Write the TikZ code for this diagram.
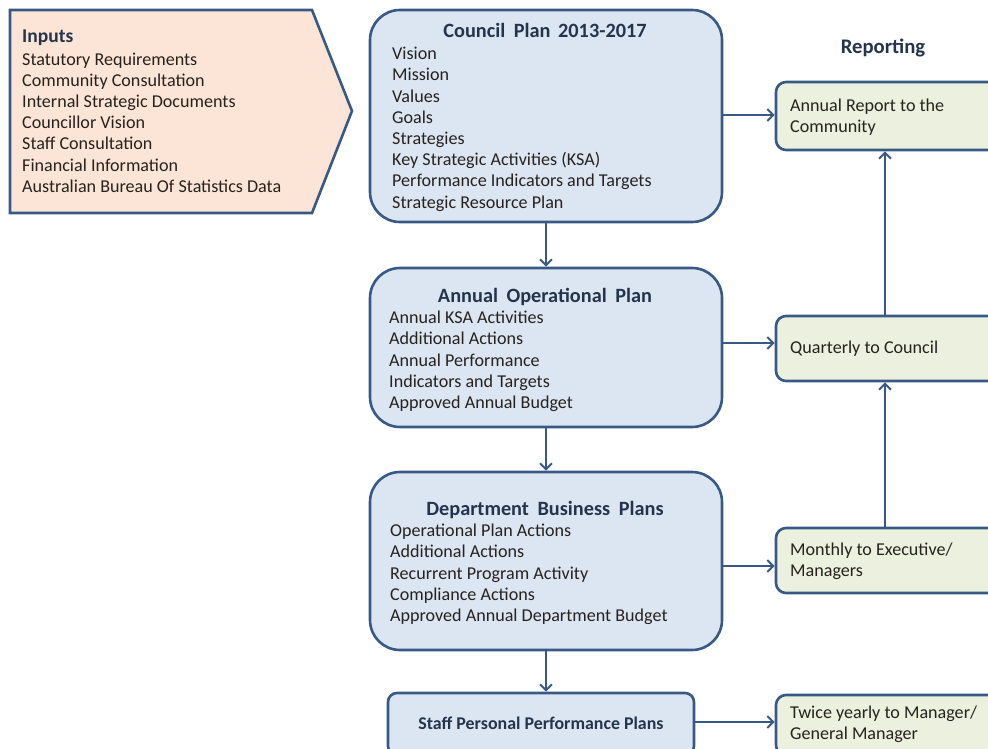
\documentclass[tikz,border=0pt]{standalone}
\usepackage{fontspec}
\setmainfont{Carlito}
\usetikzlibrary{arrows.meta}
\definecolor{edge}{RGB}{56,88,134}
\definecolor{bluefill}{RGB}{220,230,242}
\definecolor{greenfill}{RGB}{235,241,222}
\definecolor{peach}{RGB}{252,229,214}
\definecolor{titlecol}{RGB}{36,52,76}
\definecolor{txt}{RGB}{38,34,30}
\tikzset{
  planbox/.style={draw=edge, line width=2.6pt, fill=bluefill, rounded corners=30pt, inner sep=0pt},
  smallbox/.style={draw=edge, line width=2.6pt, fill=bluefill, rounded corners=9pt, inner sep=0pt},
  repbox/.style={draw=edge, line width=2.6pt, fill=greenfill, rounded corners=10pt, inner sep=0pt},
  items/.style={anchor=north west, align=left, inner sep=0pt, text=txt, font=\fontsize{18.1}{21.2}\selectfont},
  ttl/.style={anchor=base, inner sep=0pt, text=titlecol, font=\fontsize{20.3}{24}\bfseries\selectfont},
  conn/.style={draw=edge, line width=2.2pt, -{Straight Barb[length=6pt,width=12pt,line width=2pt]}},
}
\begin{document}
\begin{tikzpicture}[x=1pt, y=-1pt]
\useasboundingbox (0,0) rectangle (988,749);
% Inputs pentagon
\filldraw[draw=edge, line width=2.6pt, fill=peach, line join=miter]
  (10,10) -- (312,10) -- (352,111) -- (312,213) -- (10,213) -- cycle;
\node[items, anchor=north west] (inputs) at (22,30)
  {{\fontsize{19.5}{21}\bfseries\selectfont\textcolor{titlecol}{Inputs}}\\[1pt]
   Statutory Requirements\\ Community Consultation\\ Internal Strategic Documents\\
   Councillor Vision\\ Staff Consultation\\ Financial Information\\
   Australian Bureau Of Statistics Data};

% Plan boxes
\node[planbox, minimum width=352pt, minimum height=212pt] (council) at (546,116) {};
\node[ttl] (counciltitle) at (545,38) {Council\hspace{4pt} Plan\hspace{3pt} 2013-2017};
\node[items] (councilitems) at (392,47)
  {Vision\\ Mission\\ Values\\ Goals\\ Strategies\\ Key Strategic Activities (KSA)\\
   Performance Indicators and Targets\\ Strategic Resource Plan};

\node[planbox, minimum width=352pt, minimum height=159pt] (annop) at (546,347.5) {};
\node[ttl] (annoptitle) at (545,302) {Annual\hspace{4pt} Operational\hspace{4pt} Plan};
\node[items] (annopitems) at (389,311)
  {Annual KSA Activities\\ Additional Actions\\ Annual Performance\\
   Indicators and Targets\\ Approved Annual Budget};

\node[planbox, minimum width=352pt, minimum height=178pt] (dept) at (546,561) {};
\node[ttl] (depttitle) at (545,515) {Department\hspace{4pt} Business\hspace{4pt} Plans};
\node[items] (deptitems) at (390,524)
  {Operational Plan Actions\\ Additional Actions\\ Recurrent Program Activity\\
   Compliance Actions\\ Approved Annual Department Budget};

\node[smallbox, minimum width=306pt, minimum height=62pt, text=titlecol,
      font=\fontsize{17.9}{21}\bfseries\selectfont] (staff) at (541,724)
  {\raisebox{1pt}{Staff Personal Performance Plans}};

% Reporting
\node[inner sep=0pt, text=titlecol, font=\fontsize{20.7}{24}\bfseries\selectfont, anchor=base] (reporting) at (883,54) {Reporting};

\node[repbox, minimum width=240pt, minimum height=68pt] (annrep) at (896,116) {};
\node[items] (annreptext) at (790,99) {Annual Report to the\\ Community};

\node[repbox, minimum width=240pt, minimum height=65pt] (quart) at (896,348.5) {};
\node[items] (quarttext) at (790,341) {Quarterly to Council};

\node[repbox, minimum width=240pt, minimum height=65pt] (month) at (896,560.5) {};
\node[items] (monthtext) at (790,543) {Monthly to Executive/\\ Managers};

\node[repbox, minimum width=240pt, minimum height=60pt] (twice) at (896,725) {};
\node[items] (twicetext) at (790,706) {Twice yearly to Manager/\\ General Manager};

% Connectors down
\draw[conn] (council.south) -- (annop.north);
\draw[conn] (annop.south) -- (dept.north);
\draw[conn] (dept.south) -- (dept.south |- staff.north);

% Connectors right
\coordinate (y1) at (0,115);
\coordinate (y2) at (0,343);
\coordinate (y3) at (0,566);
\coordinate (y4) at (0,722);
\draw[conn] (council.east |- y1) -- (annrep.west |- y1);
\draw[conn] (annop.east |- y2) -- (quart.west |- y2);
\draw[conn] (dept.east |- y3) -- (month.west |- y3);
\draw[conn] (staff.east |- y4) -- (twice.west |- y4);

% Connectors up
\coordinate (vx) at (885,0);
\draw[conn] (quart.north -| vx) -- (annrep.south -| vx);
\draw[conn] (month.north -| vx) -- (quart.south -| vx);
\end{tikzpicture}
\end{document}
